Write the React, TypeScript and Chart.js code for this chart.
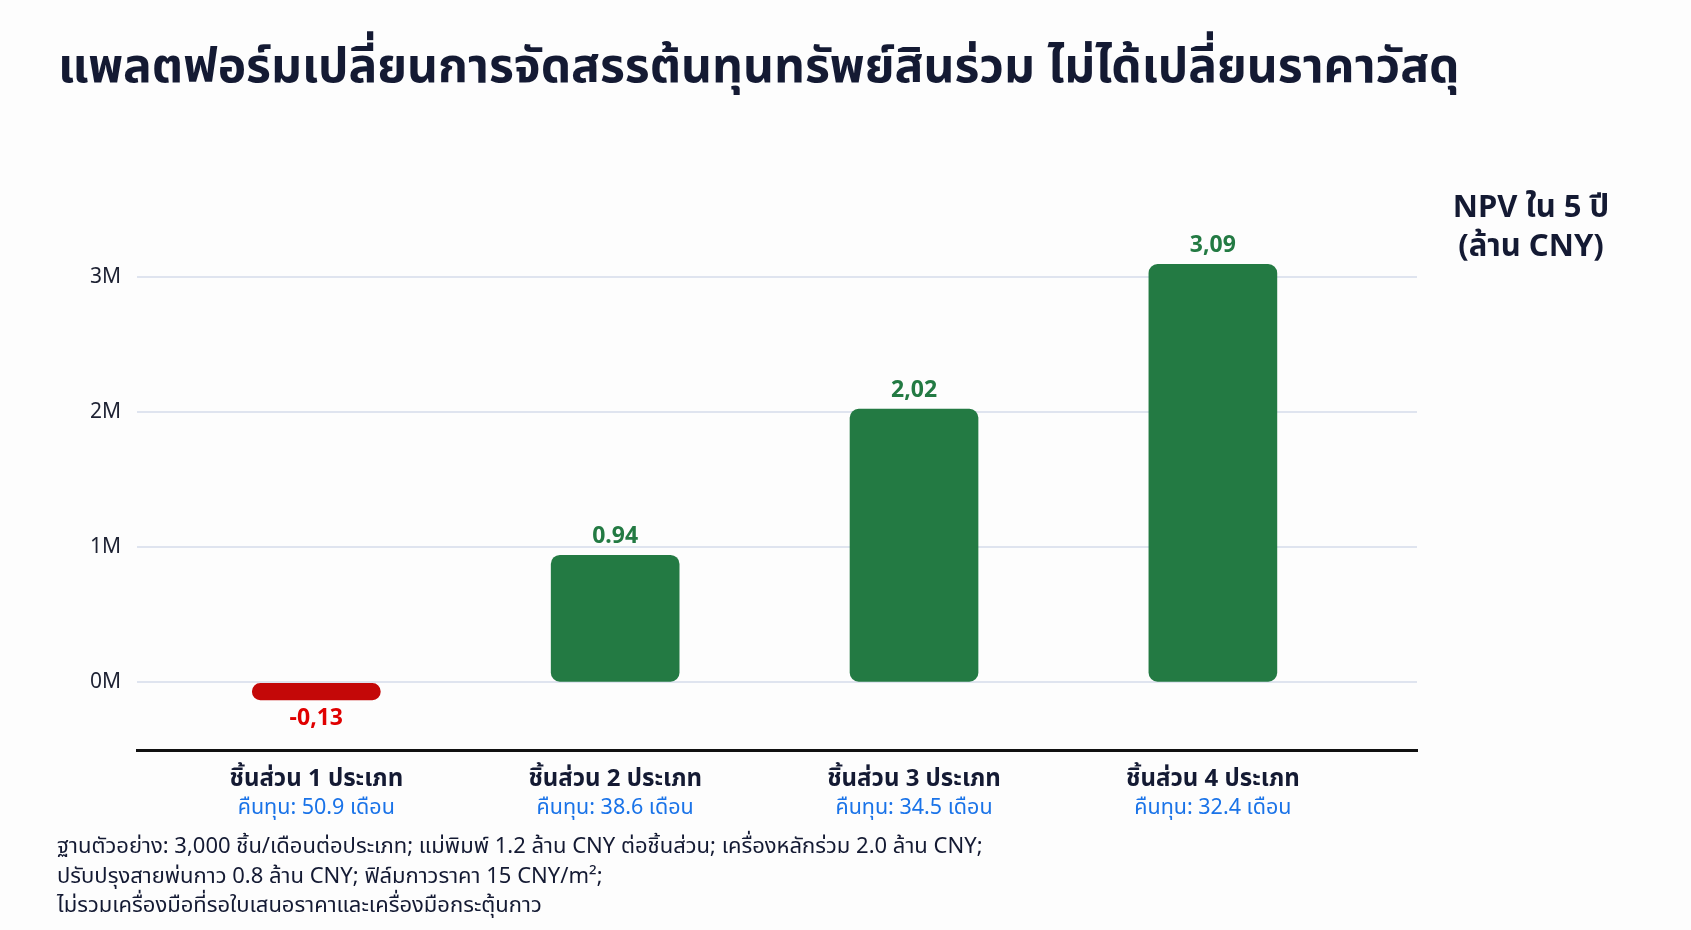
import { useEffect, useRef } from 'react';
import { Chart, registerables } from 'chart.js';

Chart.register(...registerables);

const TITLE = 'แพลตฟอร์มเปลี่ยนการจัดสรรต้นทุนทรัพย์สินร่วม ไม่ได้เปลี่ยนราคาวัสดุ';
const AXIS_TITLE = ['NPV ใน 5 ปี', '(ล้าน CNY)'];
const CATEGORIES = ['ชิ้นส่วน 1 ประเภท', 'ชิ้นส่วน 2 ประเภท', 'ชิ้นส่วน 3 ประเภท', 'ชิ้นส่วน 4 ประเภท'];
const PAYBACK = ['คืนทุน: 50.9 เดือน', 'คืนทุน: 38.6 เดือน', 'คืนทุน: 34.5 เดือน', 'คืนทุน: 32.4 เดือน'];
const NPV = [-0.13, 0.94, 2.02, 3.09];
const NPV_LABELS = ['-0,13', '0.94', '2,02', '3,09'];
const Y_TICKS = [0, 1, 2, 3];
const FOOTNOTE = [
  'ฐานตัวอย่าง: 3,000 ชิ้น/เดือนต่อประเภท; แม่พิมพ์ 1.2 ล้าน CNY ต่อชิ้นส่วน; เครื่องหลักร่วม 2.0 ล้าน CNY;',
  'ปรับปรุงสายพ่นกาว 0.8 ล้าน CNY; ฟิล์มกาวราคา 15 CNY/m²;',
  'ไม่รวมเครื่องมือที่รอใบเสนอราคาและเครื่องมือกระตุ้นกาว',
];

const GREEN = '#237a43';
const RED = '#c40808';
const INK = '#141a33';
const FONT = '"Noto Sans", "Noto Sans Thai", sans-serif';

const textPlugin = {
  id: 'texts',
  afterDraw(chart: Chart) {
    const { ctx, scales } = chart;
    const x = scales.x;
    const area = chart.chartArea;
    ctx.save();

    // title
    ctx.fillStyle = INK;
    ctx.font = `bold 48px ${FONT}`;
    ctx.textAlign = 'left';
    ctx.textBaseline = 'middle';
    ctx.fillText(TITLE, 58, 68);

    // axis title on the right
    ctx.font = `bold 31px ${FONT}`;
    ctx.textAlign = 'center';
    AXIS_TITLE.forEach((t, i) => ctx.fillText(t, 1531, 208 + i * 39));

    // value labels
    const meta = chart.getDatasetMeta(0);
    ctx.font = `bold 23px ${FONT}`;
    meta.data.forEach((bar: any, i) => {
      const v = NPV[i];
      ctx.fillStyle = v < 0 ? '#e00000' : GREEN;
      const y = v < 0 ? bar.y + 18 : bar.y - 19;
      ctx.fillText(NPV_LABELS[i], bar.x, y);
    });

    // category labels
    CATEGORIES.forEach((c, i) => {
      const px = x.getPixelForValue(i);
      ctx.fillStyle = INK;
      ctx.font = `bold 24px ${FONT}`;
      ctx.fillText(c, px, area.bottom + 29);
      ctx.fillStyle = '#1a73e8';
      ctx.font = `21.5px ${FONT}`;
      ctx.fillText(PAYBACK[i], px, area.bottom + 58);
    });

    // footnote
    ctx.fillStyle = INK;
    ctx.font = `22px ${FONT}`;
    ctx.textAlign = 'left';
    FOOTNOTE.forEach((t, i) => ctx.fillText(t, 57, 847 + i * 29.5));

    ctx.restore();
  },
};

export default function App() {
  const canvasRef = useRef<HTMLCanvasElement>(null);

  useEffect(() => {
    document.body.style.margin = '0';
    document.body.style.background = '#fdfdfd';
    if (!canvasRef.current) return;

    const chart = new Chart(canvasRef.current, {
      type: 'bar',
      data: {
        datasets: [
          {
            data: NPV.map((v, i) => ({ x: i, y: v })),
            backgroundColor: NPV.map((v) => (v < 0 ? RED : GREEN)),
            borderRadius: 9,
            borderSkipped: false,
            barThickness: 128,
          },
        ],
      },
      options: {
        responsive: false,
        animation: false,
        layout: { padding: { top: 209, right: 274, bottom: 180, left: 0 } },
        plugins: {
          legend: { display: false },
          tooltip: { enabled: false },
        },
        scales: {
          x: {
            type: 'linear',
            min: -0.6,
            max: 3.683,
            offset: false,
            grid: { display: false, drawTicks: false },
            ticks: { display: false },
            border: { display: true, color: '#111', width: 3 },
            afterFit: (s: any) => {
              s.height = 0;
            },
          },
          y: {
            min: -0.5,
            max: 3.5,
            afterBuildTicks: (s: any) => {
              s.ticks = Y_TICKS.map((v) => ({ value: v }));
            },
            afterFit: (s: any) => {
              s.width = 137;
            },
            grid: { color: '#dfe4ef', lineWidth: 2, drawTicks: false },
            border: { display: false },
            ticks: {
              padding: 16,
              color: '#1e2233',
              font: { family: FONT, size: 21 },
              callback: (v: any) => `${v}M`,
            },
          },
        },
      },
      plugins: [textPlugin],
    });

    return () => chart.destroy();
  }, []);

  return <canvas ref={canvasRef} width={1691} height={930} style={{ display: 'block' }} />;
}
